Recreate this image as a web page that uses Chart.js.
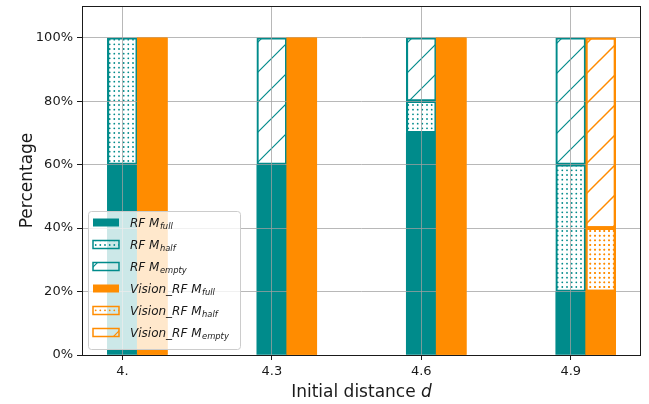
<!DOCTYPE html>
<html>
<head>
<meta charset="utf-8">
<script src="https://cdn.jsdelivr.net/npm/chart.js@4.4.0/dist/chart.umd.min.js"></script>
<style>
    html, body { margin: 0; padding: 0; background: #fff; }
    #wrap { width: 649px; height: 404px; }
</style>
</head>
<body>
<div id="wrap"><canvas id="chart" width="649" height="404"></canvas></div>
<script>
// initial distances d and their tick labels as printed
var distances = [4.0, 4.3, 4.6, 4.9];
var distanceLabels = ['4.', '4.3', '4.6', '4.9'];
var visionShift = 0.06;

// shares in percent, stacked full -> half -> empty
var rfFull = [60, 60, 70, 20];
var rfHalf = [40, 0, 10, 40];
var rfEmpty = [0, 40, 20, 40];
var visionFull = [100, 100, 100, 20];
var visionHalf = [0, 0, 0, 20];
var visionEmpty = [0, 0, 0, 60];

var yTicks = [0, 20, 40, 60, 80, 100];

var teal = 'rgb(0,139,139)';
var orange = 'rgb(255,140,0)';
var font = '"DejaVu Sans", sans-serif';

var canvas = document.getElementById('chart');
var ctx = canvas.getContext('2d');

function dotPattern(color) {
    var c = document.createElement('canvas');
    c.width = 14;
    c.height = 14;
    var g = c.getContext('2d');
    g.fillStyle = color;
    var pos = [2.3, 7, 11.7];
    for (var i = 0; i < pos.length; i++) {
        for (var j = 0; j < pos.length; j++) {
            g.beginPath();
            g.arc(pos[i], pos[j], 0.9, 0, Math.PI * 2);
            g.fill();
        }
    }
    return ctx.createPattern(c, 'repeat');
}

function slashPattern(color) {
    var c = document.createElement('canvas');
    c.width = 30;
    c.height = 30;
    var g = c.getContext('2d');
    g.strokeStyle = color;
    g.lineWidth = 1.2;
    // x + y = 0, 30, 60 so the corners join up
    [0, 30, 60].forEach(function (k) {
        g.beginPath();
        g.moveTo(k - 32, 32);
        g.lineTo(k + 2, -2);
        g.stroke();
    });
    return ctx.createPattern(c, 'repeat');
}

var fills = {
    rf: [teal, dotPattern(teal), slashPattern(teal)],
    vision: [orange, dotPattern(orange), slashPattern(orange)]
};

function floatBars(shift, lower, size) {
    var pts = [];
    distances.forEach(function (d, i) {
        if (size[i] > 0) {
            pts.push({x: d + shift, y: [lower[i], lower[i] + size[i]]});
        }
    });
    return pts;
}

function sum(a, b) {
    return a.map(function (v, i) { return v + b[i]; });
}

var zeros = distances.map(function () { return 0; });

function barSet(label, data, fill, edge, hatched) {
    return {
        label: label,
        data: data,
        backgroundColor: fill,
        borderColor: edge,
        borderWidth: hatched ? 1.5 : 0,
        borderSkipped: false,
        grouped: false,
        barThickness: 30
    };
}

var datasets = [
    barSet('RF full', floatBars(0, zeros, rfFull), fills.rf[0], teal, false),
    barSet('RF half', floatBars(0, rfFull, rfHalf), fills.rf[1], teal, true),
    barSet('RF empty', floatBars(0, sum(rfFull, rfHalf), rfEmpty), fills.rf[2], teal, true),
    barSet('Vision_RF full', floatBars(visionShift, zeros, visionFull), fills.vision[0], orange, false),
    barSet('Vision_RF half', floatBars(visionShift, visionFull, visionHalf), fills.vision[1], orange, true),
    barSet('Vision_RF empty', floatBars(visionShift, sum(visionFull, visionHalf), visionEmpty), fills.vision[2], orange, true)
];

var legendRows = [
    {name: 'RF M', sub: 'full', fill: fills.rf[0], edge: teal, hatched: false},
    {name: 'RF M', sub: 'half', fill: fills.rf[1], edge: teal, hatched: true},
    {name: 'RF M', sub: 'empty', fill: fills.rf[2], edge: teal, hatched: true},
    {name: 'Vision_RF M', sub: 'full', fill: fills.vision[0], edge: orange, hatched: false},
    {name: 'Vision_RF M', sub: 'half', fill: fills.vision[1], edge: orange, hatched: true},
    {name: 'Vision_RF M', sub: 'empty', fill: fills.vision[2], edge: orange, hatched: true}
];

var gridColor = 'rgba(160,160,160,0.75)';

var overlay = {
    id: 'overlay',
    afterDraw: function (chart) {
        var c = chart.ctx;
        var area = chart.chartArea;

        // orange bars sit above the grid
        for (var i = 3; i < 6; i++) {
            chart.getDatasetMeta(i).controller.draw();
        }

        // frame on all four sides
        c.save();
        c.strokeStyle = '#1a1a1a';
        c.lineWidth = 1;
        c.strokeRect(Math.round(area.left) + 0.5, Math.round(area.top) + 0.5,
            Math.round(area.right - area.left) - 1, Math.round(area.bottom - area.top));

        // x title with italic d
        c.fillStyle = '#1a1a1a';
        c.textBaseline = 'middle';
        c.font = '17px ' + font;
        var plain = 'Initial distance ';
        c.font = '17px ' + font;
        var w1 = c.measureText(plain).width;
        c.font = 'italic 17px ' + font;
        var w2 = c.measureText('d').width;
        var x0 = (area.left + area.right) / 2 - (w1 + w2) / 2;
        c.font = '17px ' + font;
        c.textAlign = 'left';
        c.fillText(plain, x0, 393);
        c.font = 'italic 17px ' + font;
        c.fillText('d', x0 + w1, 393);

        // legend
        var bx = 88, by = 211, bw = 152, bh = 138;
        c.beginPath();
        c.roundRect(bx + 0.5, by + 0.5, bw, bh, 3);
        c.fillStyle = 'rgba(255,255,255,0.8)';
        c.fill();
        c.strokeStyle = '#cccccc';
        c.lineWidth = 1;
        c.stroke();

        legendRows.forEach(function (row, k) {
            var cy = 222.5 + k * 22;
            var px = 93, pw = 26, ph = 8;
            if (row.hatched) {
                c.fillStyle = row.fill;
                c.fillRect(px, cy - ph / 2, pw, ph);
                c.strokeStyle = row.edge;
                c.lineWidth = 1.5;
                c.strokeRect(px, cy - ph / 2, pw, ph);
            } else {
                c.fillStyle = row.fill;
                c.fillRect(px, cy - ph / 2, pw, ph);
            }
            c.fillStyle = '#1a1a1a';
            c.textBaseline = 'alphabetic';
            c.font = 'italic 12px ' + font;
            var base = cy + 4.3;
            c.fillText(row.name, 130, base);
            var tw = c.measureText(row.name).width;
            c.font = 'italic 8.4px ' + font;
            c.fillText(row.sub, 130 + tw + 0.5, base + 2.2);
        });
        c.restore();
    }
};

new Chart(ctx, {
    type: 'bar',
    data: {datasets: datasets},
    options: {
        responsive: false,
        animation: false,
        devicePixelRatio: 1,
        layout: {padding: {left: 0, top: 6, right: 8, bottom: 0}},
        plugins: {
            legend: {display: false},
            tooltip: {enabled: false}
        },
        scales: {
            x: {
                type: 'linear',
                min: 3.919,
                max: 5.041,
                offset: false,
                afterBuildTicks: function (scale) {
                    scale.ticks = distances.map(function (d) { return {value: d}; });
                },
                afterFit: function (scale) {
                    scale.height = 49;
                    scale.paddingLeft = 0;
                    scale.paddingRight = 0;
                },
                grid: {
                    offset: false,
                    color: gridColor,
                    z: 1,
                    tickLength: 5,
                    tickColor: '#1a1a1a'
                },
                border: {display: false},
                ticks: {
                    autoSkip: false,
                    maxRotation: 0,
                    padding: 4,
                    color: '#1a1a1a',
                    font: {family: font, size: 13},
                    callback: function (v, i) { return distanceLabels[i]; }
                }
            },
            y: {
                min: 0,
                max: 110,
                afterBuildTicks: function (scale) {
                    scale.ticks = yTicks.map(function (v) { return {value: v}; });
                },
                afterFit: function (scale) {
                    scale.width = 82;
                    scale.paddingTop = 0;
                    scale.paddingBottom = 0;
                },
                grid: {
                    color: gridColor,
                    z: 1,
                    tickLength: 5,
                    tickColor: '#1a1a1a'
                },
                border: {display: false},
                ticks: {
                    padding: 4,
                    color: '#1a1a1a',
                    font: {family: font, size: 13},
                    callback: function (v) { return v + '%'; }
                },
                title: {
                    display: true,
                    text: 'Percentage',
                    color: '#1a1a1a',
                    font: {family: font, size: 17},
                    padding: {top: 17, bottom: 0}
                }
            }
        }
    },
    plugins: [overlay]
});
</script>
</body>
</html>
